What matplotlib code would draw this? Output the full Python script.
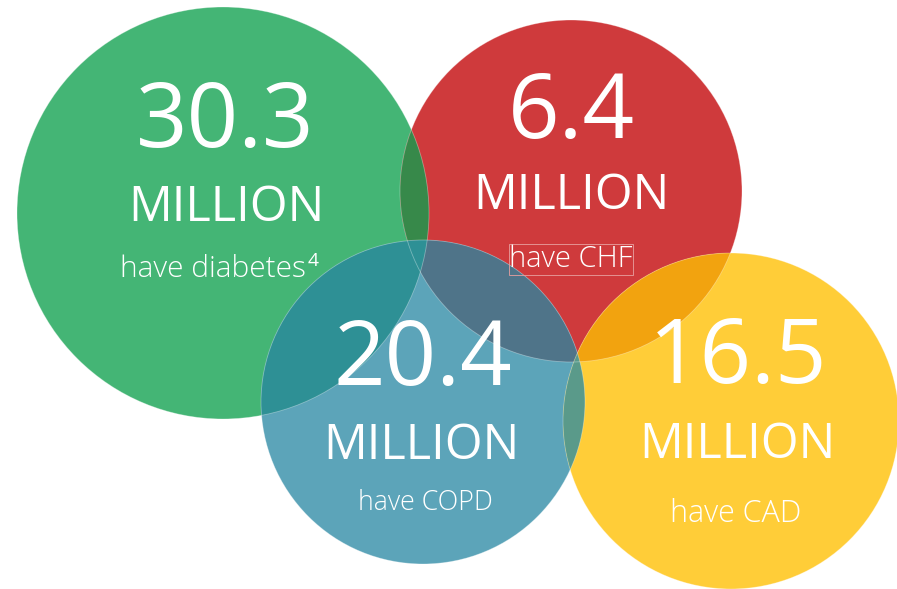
import matplotlib.pyplot as plt
from matplotlib.patches import Circle

# ============================
# Data
# ============================
values = ["30.3", "6.4", "20.4", "16.5"]
units = ["MILLION", "MILLION", "MILLION", "MILLION"]
captions = ["have diabetes", "have CHF", "have COPD", "have CAD"]
footnotes = ["4", "", "", ""]
colors = ["#44b575", "#cf3a3c", "#5ca4b9", "#ffcd38"]

# circle geometry in pixel coordinates (x, y, radius)
centers = [(223, 213), (571, 191), (423, 402), (731, 421)]
radii = [206, 171, 162, 168]

# overlap colours: (circle a, circle b, colour)
overlaps = [
    (0, 1, "#37894a"),
    (1, 2, "#4f7489"),
    (0, 2, "#2e9095"),
    (1, 3, "#f2a30f"),
    (2, 3, "#5a9a8a"),
]

plt.rcParams['font.family'] = ['Open Sans', 'DejaVu Sans']

fig = plt.figure(figsize=(8.97, 5.89), dpi=100)
ax = fig.add_axes([0, 0, 1, 1])
ax.set_xlim(0, 897)
ax.set_ylim(589, 0)
ax.set_aspect('equal')
ax.axis('off')

circles = []
for (cx, cy), r, c in zip(centers, radii, colors):
    p = Circle((cx, cy), r, facecolor=c, edgecolor='none', zorder=1)
    ax.add_patch(p)
    circles.append(p)

for i, j, c in overlaps:
    (cx, cy), r = centers[j], radii[j]
    p = Circle((cx, cy), r, facecolor=c, edgecolor='none', zorder=2)
    ax.add_patch(p)
    p.set_clip_path(circles[i])

# faint outlines
for (cx, cy), r in zip(centers, radii):
    ax.add_patch(Circle((cx, cy), r, facecolor='none', edgecolor='white',
                        linewidth=0.6, alpha=0.35, zorder=3))

# ============================
# Labels
# ============================
val_pos = [(225, 124), (571, 115), (423, 362), (738, 360)]
unit_pos = [(226, 208), (571, 196), (421, 446), (737, 445)]
cap_pos = [(213, 277), (571, 267), (425, 510), (736, 522)]
cap_size = [21.5, 21, 19.3, 22]

for k in range(4):
    ax.text(*val_pos[k], values[k], color='white', fontsize=65,
            ha='center', va='center', zorder=5)
    ax.text(*unit_pos[k], units[k], color='white', fontsize=35,
            ha='center', va='center', zorder=5)
    bbox = None
    if k == 1:
        bbox = dict(boxstyle='square,pad=0.02', facecolor='none',
                    edgecolor='#e8a0a0', linewidth=0.6)
    t = ax.text(*cap_pos[k], captions[k], color='white', fontsize=cap_size[k],
                fontweight='light', ha='center', va='baseline', zorder=5, bbox=bbox)
    if footnotes[k]:
        ax.annotate(footnotes[k], xy=(1.01, 1.1), xycoords=t, color='white',
                    fontsize=cap_size[k] * 0.65,
                    ha='left', va='top', zorder=5)

fig.savefig('out.png', dpi=100)
